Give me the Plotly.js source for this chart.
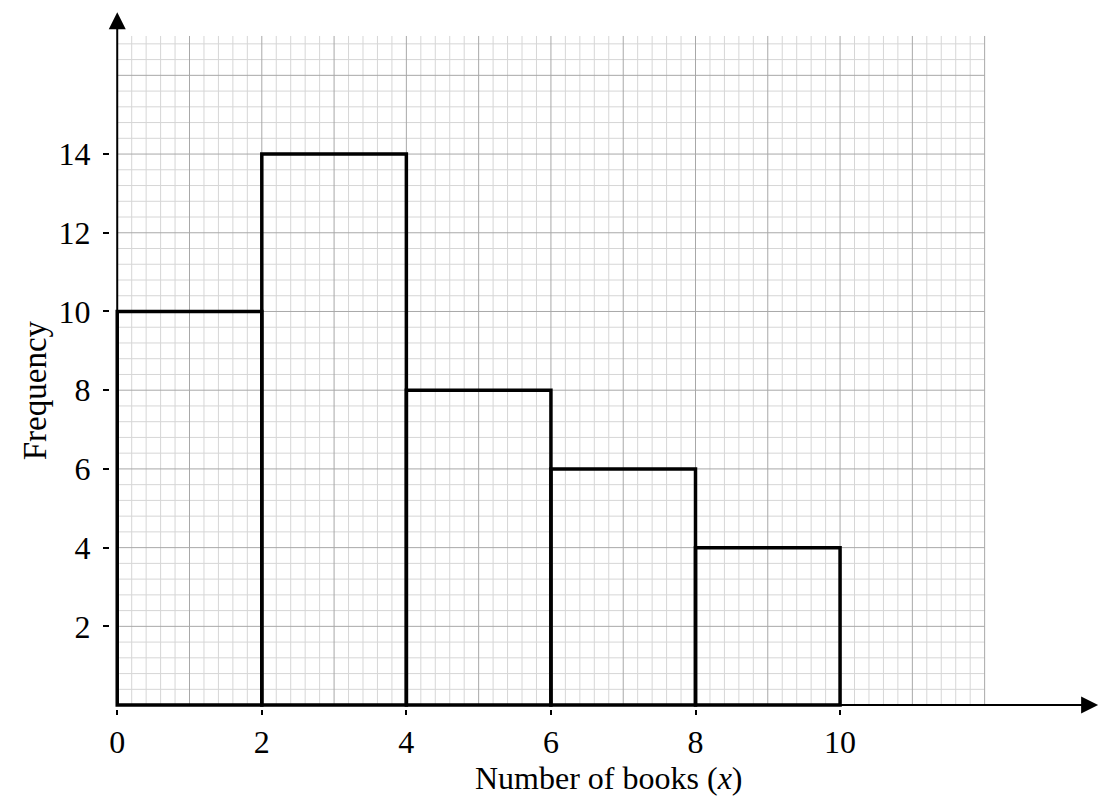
<!DOCTYPE html>
<html>
<head>
<meta charset="utf-8">
<script src="https://cdn.plot.ly/plotly-3.0.1.min.js"></script>
<style>
  body { margin: 0; background: #fff; }
  #chart { width: 1114px; height: 807px; }
</style>
</head>
<body>
<div id="chart"></div>
<script>
// class edges and frequencies
const edges = [0, 2, 4, 6, 8, 10];
const freq = [10, 14, 8, 6, 4];
const xTicks = [0, 2, 4, 6, 8, 10];
const yTicks = [2, 4, 6, 8, 10, 12, 14];

const gridW = 12, gridH = 17;
const xMax = 13.596, yMax = 17.66;
const serif = "'Liberation Serif', 'Times New Roman', serif";

let centers = [];
let widths = [];
for (let i = 0; i < freq.length; i++) {
  centers.push((edges[i] + edges[i + 1]) / 2);
  widths.push(edges[i + 1] - edges[i]);
}

// graph paper: light minor lines, darker major lines
let shapes = [];
function gridLine(x0, y0, x1, y1, col) {
  shapes.push({
    type: "line", xref: "x", yref: "y", layer: "below",
    x0: x0, y0: y0, x1: x1, y1: y1,
    line: { color: col, width: 1 }
  });
}
for (let k = 0; k <= gridW * 5; k++) {
  if (k % 5 !== 0) gridLine(k / 5, 0, k / 5, gridH, "#d6d6d6");
}
for (let k = 1; k * 0.4 <= gridH; k++) {
  if (k % 5 !== 0) gridLine(0, k * 0.4, gridW, k * 0.4, "#d6d6d6");
}
for (let x = 1; x <= gridW; x++) gridLine(x, 0, x, gridH, "#a8a8a8");
for (let y = 2; y <= gridH; y += 2) gridLine(0, y, gridW, y, "#a8a8a8");

let data = [
  {
    type: "bar",
    x: centers,
    y: freq,
    width: widths,
    marker: { color: "rgba(0,0,0,0)", line: { color: "#000", width: 3.5 } },
    hoverinfo: "x+y"
  }
];

let layout = {
  width: 1114,
  height: 807,
  margin: { l: 109.77, r: 14, t: 10, b: 98 },
  paper_bgcolor: "#fff",
  plot_bgcolor: "rgba(0,0,0,0)",
  showlegend: false,
  bargap: 0,
  xaxis: {
    range: [-0.1, xMax],
    showgrid: false, zeroline: false, showline: false,
    tickvals: xTicks, ticktext: xTicks.map(String),
    ticks: "outside", ticklen: 5, tickwidth: 2, tickcolor: "#000",
    ticklabelstandoff: 0,
    tickfont: { family: serif, size: 32, color: "#000" }
  },
  yaxis: {
    range: [-0.1, yMax],
    showgrid: false, zeroline: false, showline: false,
    tickvals: yTicks, ticktext: yTicks.map(String),
    ticks: "outside", ticklen: 6, tickwidth: 2, tickcolor: "#000",
    ticklabelstandoff: 6,
    tickfont: { family: serif, size: 32, color: "#000" }
  },
  shapes: shapes,
  annotations: [
    {
      x: 13.57, y: 0, ax: 0, ay: 0, xref: "x", yref: "y", axref: "x", ayref: "y",
      text: "", showarrow: true, arrowhead: 2, arrowsize: 1.7, arrowwidth: 2, arrowcolor: "#000"
    },
    {
      x: 0, y: 17.6, ax: 0, ay: 0, xref: "x", yref: "y", axref: "x", ayref: "y",
      text: "", showarrow: true, arrowhead: 2, arrowsize: 1.7, arrowwidth: 2, arrowcolor: "#000"
    },
    {
      x: 0.5031, y: -0.098, xref: "paper", yref: "paper",
      xanchor: "center", yanchor: "middle", showarrow: false, borderpad: 0,
      text: "Number of books (<i>x</i>)",
      font: { family: serif, size: 32, color: "#000" }
    },
    {
      x: -0.0755, y: 0.4564, xref: "paper", yref: "paper",
      xanchor: "center", yanchor: "middle", showarrow: false,
      text: "Frequency", textangle: -90,
      font: { family: serif, size: 33, color: "#000" }
    }
  ]
};

Plotly.newPlot("chart", data, layout, { displayModeBar: false, staticPlot: true });
</script>
</body>
</html>
